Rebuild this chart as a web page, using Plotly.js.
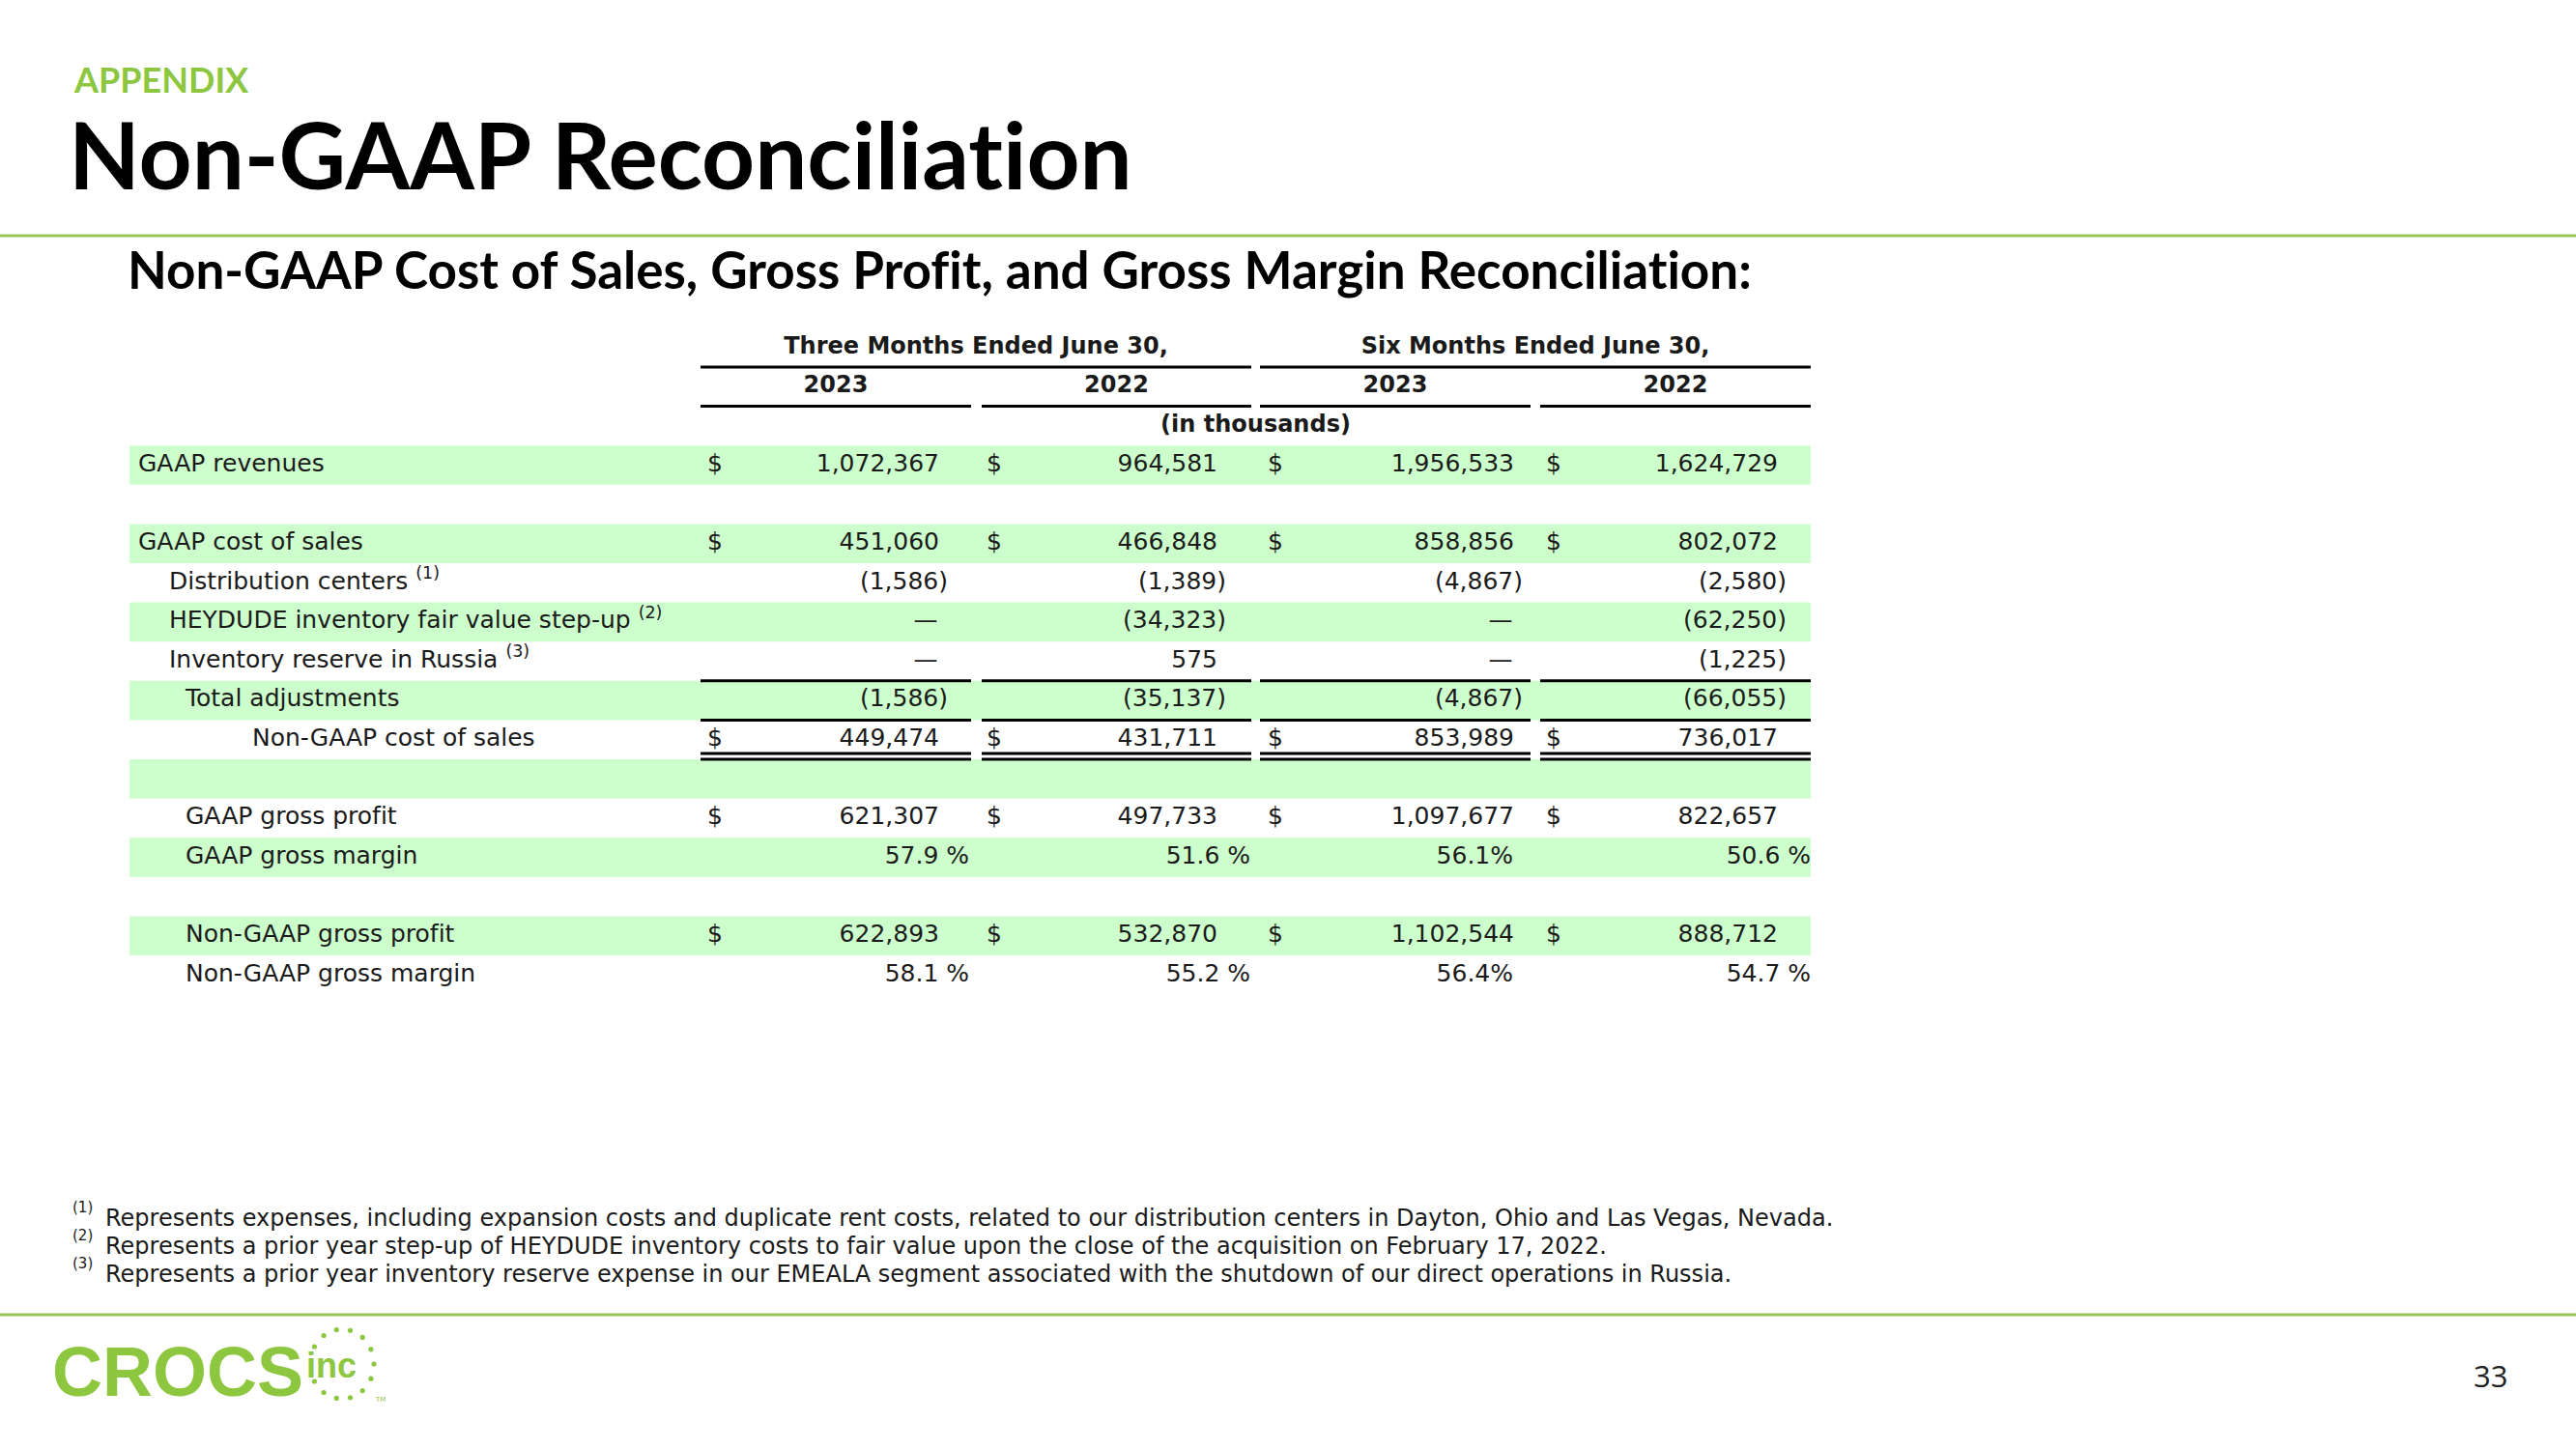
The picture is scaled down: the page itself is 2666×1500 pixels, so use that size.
<!DOCTYPE html>
<html>
<head>
<meta charset="utf-8">
<script src="https://cdn.plot.ly/plotly-3.0.1.min.js"></script>
<style>
  html, body { margin: 0; padding: 0; background: #fff; }
  #chart { width: 2666px; height: 1500px; }
  svg text { font-variant-ligatures: none !important; font-feature-settings: "liga" 0, "clig" 0 !important; }
</style>
</head>
<body>
<div id="chart"></div>
<script>
// table content
var periods = ["Three Months Ended June 30,", "Six Months Ended June 30,"];
var years = ["2023", "2022", "2023", "2022"];
var unitNote = "(in thousands)";

var rowLabels = [
  "GAAP revenues", "", "GAAP cost of sales", "Distribution centers",
  "HEYDUDE inventory fair value step-up", "Inventory reserve in Russia",
  "Total adjustments", "Non-GAAP cost of sales", "", "GAAP gross profit",
  "GAAP gross margin", "", "Non-GAAP gross profit", "Non-GAAP gross margin"
];
var rowNotes = ["", "", "", "(1)", "(2)", "(3)", "", "", "", "", "", "", "", ""];

var q2023 = [1072367, null, 451060, -1586, 0, 0, -1586, 449474, null, 621307, 57.9, null, 622893, 58.1];
var q2022 = [964581, null, 466848, -1389, -34323, 575, -35137, 431711, null, 497733, 51.6, null, 532870, 55.2];
var h2023 = [1956533, null, 858856, -4867, 0, 0, -4867, 853989, null, 1097677, 56.1, null, 1102544, 56.4];
var h2022 = [1624729, null, 802072, -2580, -62250, -1225, -66055, 736017, null, 822657, 50.6, null, 888712, 54.7];

var dollarRows = [0, 2, 7, 9, 12];
var percentRows = [10, 13];

var footnotes = [
  "Represents expenses, including expansion costs and duplicate rent costs, related to our distribution centers in Dayton, Ohio and Las Vegas, Nevada.",
  "Represents a prior year step-up of HEYDUDE inventory costs to fair value upon the close of the acquisition on February 17, 2022.",
  "Represents a prior year inventory reserve expense in our EMEALA segment associated with the shutdown of our direct operations in Russia."
];

// layout (pixels)
var W = 2666, H = 1500;
var rowH = 40.6, row0 = 481.5;
var green = "#8DC63F", lineGreen = "#9BC55A", band = "#CCFFCC", ink = "#1a1a1a";
var body = "DejaVu Sans", head = "Lato";
var rowIndent = [0, 0, 0, 1, 1, 1, 2, 3, 0, 2, 2, 0, 2, 2];
var indentX = [143, 175, 192, 261];
var colSpan = [[725, 1005], [1016, 1295], [1304, 1584], [1594, 1874]];
var numRight = [972, 1260, 1567, 1840];
var pctRight = [1003, 1294, 1566, 1874];
var pctSuffix = [" %", " %", "%", " %"];
var dollarX = [740, 1029, 1320, 1608];
var bandX = [134, 1874];

function px(x) { return x / W; }
function py(y) { return 1 - y / H; }
function fmt(v) {
  if (v === 0) return "\u2014";
  var s = Math.abs(v).toLocaleString("en-US");
  return v < 0 ? "(" + s + ")" : s;
}

var columns = [q2023, q2022, h2023, h2022];
var traces = [];

// row labels
var lx = [], ly = [], lt = [];
rowLabels.forEach(function (lab, i) {
  if (!lab) return;
  lx.push(indentX[rowIndent[i]]);
  ly.push(i);
  lt.push(rowNotes[i] ? lab + " <sup>" + rowNotes[i] + "</sup>" : lab);
});
traces.push({
  type: "scatter", mode: "text", x: lx, y: ly, text: lt,
  textposition: "middle right", hoverinfo: "skip",
  textfont: { family: body, size: 25, color: ink }
});

// values
columns.forEach(function (vals, c) {
  var x = [], y = [], t = [], p = [];
  vals.forEach(function (v, i) {
    if (v === null) return;
    y.push(i);
    if (percentRows.indexOf(i) >= 0) {
      x.push(pctRight[c]); t.push(v.toFixed(1) + pctSuffix[c]); p.push("middle left");
    } else if (v === 0) {
      x.push(numRight[c] - 14); t.push(fmt(v)); p.push("middle center");
    } else if (v < 0) {
      x.push(numRight[c] + 9); t.push(fmt(v)); p.push("middle left");
    } else {
      x.push(numRight[c]); t.push(fmt(v)); p.push("middle left");
    }
  });
  traces.push({
    type: "scatter", mode: "text", x: x, y: y, text: t,
    textposition: p, hoverinfo: "skip",
    textfont: { family: body, size: 25, color: ink }
  });
});

// dollar signs
var dx = [], dy = [];
dollarRows.forEach(function (r) {
  dollarX.forEach(function (xx) { dx.push(xx); dy.push(r); });
});
traces.push({
  type: "scatter", mode: "text", x: dx, y: dy,
  text: dy.map(function () { return "$"; }),
  textposition: "middle center", hoverinfo: "skip",
  textfont: { family: body, size: 25, color: ink }
});

// column headers
traces.push({
  type: "scatter", mode: "text",
  x: [(colSpan[0][0] + colSpan[1][1]) / 2, (colSpan[2][0] + colSpan[3][1]) / 2],
  y: [-3, -3], text: periods, textposition: "middle center", hoverinfo: "skip",
  textfont: { family: body, size: 24, color: ink, weight: "bold" }
});
traces.push({
  type: "scatter", mode: "text",
  x: colSpan.map(function (s) { return (s[0] + s[1]) / 2; }),
  y: years.map(function () { return -2; }), text: years,
  textposition: "middle center", hoverinfo: "skip",
  textfont: { family: body, size: 24, color: ink, weight: "bold" }
});
traces.push({
  type: "scatter", mode: "text",
  x: [(colSpan[0][0] + colSpan[3][1]) / 2], y: [-1], text: [unitNote],
  textposition: "middle center", hoverinfo: "skip",
  textfont: { family: body, size: 24, color: ink, weight: "bold" }
});

// shapes
var shapes = [];
rowLabels.forEach(function (lab, i) {
  if (i % 2 === 0) {
    shapes.push({ type: "rect", xref: "x", yref: "y", x0: bandX[0], x1: bandX[1],
      y0: i - 0.5, y1: i + 0.5, fillcolor: band, line: { width: 0 }, layer: "below" });
  }
});
function rule(x0, x1, y) {
  shapes.push({ type: "line", xref: "x", yref: "y", x0: x0, x1: x1, y0: y, y1: y,
    line: { color: "#000", width: 3 } });
}
rule(colSpan[0][0], colSpan[1][1], -2.5);
rule(colSpan[2][0], colSpan[3][1], -2.5);
colSpan.forEach(function (s) {
  rule(s[0], s[1], -1.5);
  rule(s[0], s[1], 5.5);
  rule(s[0], s[1], 6.5);
  rule(s[0], s[1], 7.35);
  rule(s[0], s[1], 7.5);
});
// page rules
[244, 1361].forEach(function (y) {
  shapes.push({ type: "line", xref: "paper", yref: "paper", x0: 0, x1: 1,
    y0: py(y), y1: py(y), line: { color: lineGreen, width: 3 } });
});
// logo dots
[-150, -125, -100, -75, -50, -25, 0, 25, 50, 75, 100, 125, 150].forEach(function (a) {
  var r = a * Math.PI / 180, cx = 354 + 33 * Math.cos(r), cy = 1412 + 36 * Math.sin(r);
  shapes.push({ type: "circle", xref: "paper", yref: "paper",
    x0: px(cx - 2.6), x1: px(cx + 2.6), y0: py(cy - 2.6), y1: py(cy + 2.6),
    fillcolor: green, line: { width: 0 } });
});

// page text
var ann = [];
function note(text, x, y, font, anchor) {
  ann.push({ xref: "paper", yref: "paper", x: px(x), y: py(y), text: text,
    xanchor: anchor || "left", yanchor: "middle", showarrow: false, font: font });
}
note("APPENDIX", 74, 82, { family: head, size: 36, color: green, weight: "bold" });
note("Non-GAAP Reconciliation", 69, 159, { family: head, size: 96, color: "#000", weight: "bold" });
note("Non-GAAP Cost of Sales, Gross Profit, and Gross Margin Reconciliation:", 130, 279,
  { family: head, size: 53, color: "#000", weight: "bold" });
footnotes.forEach(function (f, i) {
  var y = 1260 + i * 29;
  note("(" + (i + 1) + ")", 73, y - 10, { family: body, size: 15, color: ink });
  note(f, 107, y + 1, { family: body, size: 24, color: ink });
});
note("CROCS", 52, 1420, { family: "Liberation Sans", size: 72, color: green, weight: "bold" });
note("inc", 315, 1413, { family: "Liberation Sans", size: 36, color: green, weight: "bold" });
note("TM", 386, 1449, { family: body, size: 7, color: green });
note("33", 2597, 1424, { family: "Open Sans", size: 31, color: "#222" }, "right");

var layout = {
  width: W, height: H,
  margin: { l: 0, r: 0, t: 0, b: 0 },
  paper_bgcolor: "#fff", plot_bgcolor: "#fff",
  showlegend: false,
  xaxis: { range: [0, W], visible: false, fixedrange: true },
  yaxis: { range: [(H - row0) / rowH, -row0 / rowH], visible: false, fixedrange: true },
  shapes: shapes,
  annotations: ann
};

Plotly.newPlot("chart", traces, layout, { staticPlot: true });
</script>
</body>
</html>
